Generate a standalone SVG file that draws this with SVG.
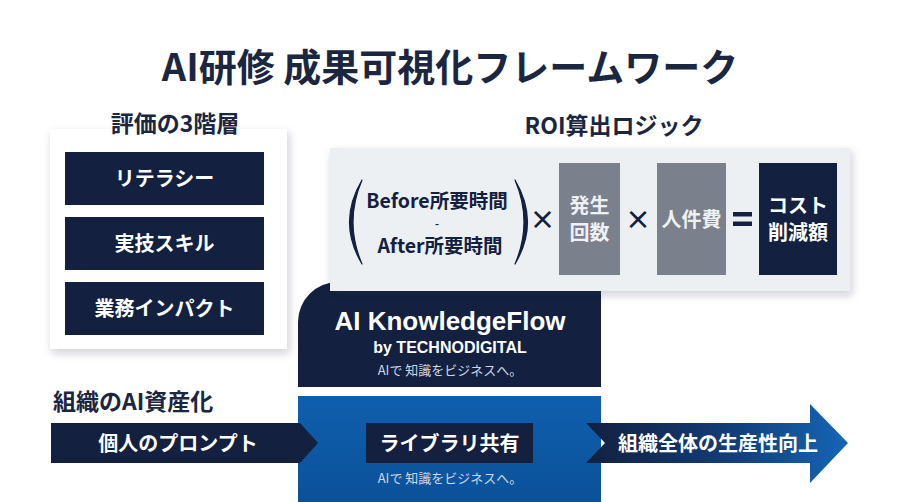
<svg xmlns="http://www.w3.org/2000/svg" width="900" height="502" viewBox="0 0 900 502">
<style>
.jp{font-family:"Noto Sans CJK JP","Noto Sans",sans-serif;}
.h1{font-size:38px;font-weight:700;fill:#1b2641;}
.h2{font-size:23px;font-weight:700;fill:#1b2641;}
.wt{font-size:20px;font-weight:700;fill:#ffffff;text-anchor:middle;}
.gt{font-size:20px;font-weight:700;fill:#eef0f4;text-anchor:middle;}
.nv{fill:#13203f;}
.op{font-size:26px;font-weight:700;fill:#13203f;text-anchor:middle;}
.fm{font-size:19.5px;font-weight:700;fill:#13203f;text-anchor:middle;}
.tag{font-size:13px;font-weight:400;fill:#cfd6e2;text-anchor:middle;}
.en{font-family:"Liberation Sans",Arial,sans-serif;font-weight:700;fill:#ffffff;text-anchor:middle;}
</style>
<defs>
<filter id="sh" x="-10%" y="-10%" width="125%" height="130%">
<feDropShadow dx="2" dy="4" stdDeviation="4" flood-color="#1b2641" flood-opacity="0.22"/>
</filter>
<linearGradient id="blueg" x1="0" y1="0" x2="0" y2="1">
<stop offset="0" stop-color="#0f5fae"/>
<stop offset="1" stop-color="#0b5199"/>
</linearGradient>
<linearGradient id="arrg" x1="586" y1="0" x2="848" y2="0" gradientUnits="userSpaceOnUse">
<stop offset="0" stop-color="#13203f"/>
<stop offset="0.55" stop-color="#123d78"/>
<stop offset="1" stop-color="#1566b6"/>
</linearGradient>
</defs>
<rect width="900" height="502" fill="#ffffff"/>

<text class="jp h1" x="450" y="81" text-anchor="middle">AI研修 成果可視化フレームワーク</text>

<g id="eval-levels">
<rect x="50" y="129" width="237" height="220" fill="#ffffff" filter="url(#sh)"/>
<text class="jp h2" x="175" y="132" text-anchor="middle">評価の3階層</text>
<g id="level-literacy">
<rect class="nv" x="65" y="152" width="199" height="53"/>
<text class="jp wt" x="164.5" y="186">リテラシー</text>
</g>
<g id="level-skill">
<rect class="nv" x="65" y="217" width="199" height="53"/>
<text class="jp wt" x="164.5" y="251">実技スキル</text>
</g>
<g id="level-impact">
<rect class="nv" x="65" y="282" width="199" height="53"/>
<text class="jp wt" x="164.5" y="316">業務インパクト</text>
</g>
</g>

<g id="knowledgeflow">
<path class="nv" d="M298,387 V322 A40,40 0 0 1 338,282 H601 V387 Z"/>
<text class="en" x="450" y="330" font-size="26">AI KnowledgeFlow</text>
<text class="en" x="450" y="353" font-size="16">by TECHNODIGITAL</text>
<text class="jp tag" x="450" y="375">AIで 知識をビジネスへ。</text>
</g>

<g id="roi-logic">
<rect x="330" y="148" width="520" height="143" fill="#edf0f3" filter="url(#sh)"/>
<text class="jp h2" x="614" y="134" text-anchor="middle">ROI算出ロジック</text>
<path class="nv" d="M362,180 Q337,222 362,264 Q344,222 362,180 Z" stroke="#13203f" stroke-width="1.2" stroke-linejoin="round"/>
<path class="nv" d="M515,180 Q540,222 515,264 Q533,222 515,180 Z" stroke="#13203f" stroke-width="1.2" stroke-linejoin="round"/>
<text class="jp fm"><tspan x="437" y="208">Before所要時間</tspan><tspan x="437" y="228" font-size="11">-</tspan><tspan x="440" y="253">After所要時間</tspan></text>
<text class="jp op" x="542.5" y="229">×</text>
<g id="roi-count">
<rect x="559" y="163" width="61" height="112" fill="#7a808c"/>
<text class="jp gt" x="589.5" y="213">発生</text>
<text class="jp gt" x="589.5" y="240">回数</text>
</g>
<text class="jp op" x="638" y="229">×</text>
<g id="roi-labor">
<rect x="657" y="163" width="69" height="112" fill="#7a808c"/>
<text class="jp gt" x="691.5" y="227">人件費</text>
</g>
<rect class="nv" x="733" y="212" width="19" height="4.5"/>
<rect class="nv" x="733" y="221.5" width="19" height="4.5"/>
<g id="roi-result">
<rect class="nv" x="759" y="163" width="78" height="112"/>
<text class="jp wt" x="798" y="213">コスト</text>
<text class="jp wt" x="798" y="240">削減額</text>
</g>
</g>

<g id="library">
<rect x="298" y="396" width="303" height="106" fill="url(#blueg)"/>
<rect class="nv" x="366" y="423" width="167" height="40"/>
<text class="jp wt" x="449.5" y="451">ライブラリ共有</text>
<text class="jp tag" x="450" y="483">AIで 知識をビジネスへ。</text>
</g>

<text class="jp h2" x="53" y="410" font-size="24">組織のAI資産化</text>

<g id="connectors">
<g id="arrow-individual">
<polygon class="nv" points="51,423 300,423 318,443 300,463 51,463"/>
<text class="jp wt" x="178" y="451">個人のプロンプト</text>
</g>
<g id="arrow-organization">
<polygon fill="url(#arrg)" points="586,423 810,423 810,404 848,443 810,483 810,463 586,463 605,443"/>
<text class="jp wt" x="718" y="451">組織全体の生産性向上</text>
</g>
</g>
</svg>
